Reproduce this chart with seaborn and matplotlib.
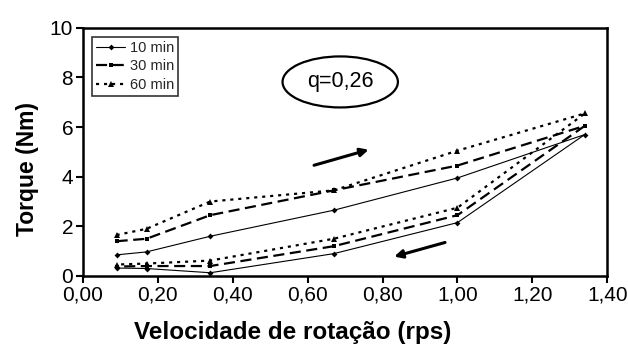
import pandas as pd
import matplotlib.pyplot as plt
import seaborn as sns

# Data: loop goes up in speed, then back down
speed_up = [0.09, 0.17, 0.34, 0.67, 1.00, 1.34]
speed_down = [1.00, 0.67, 0.34, 0.17, 0.09]

torque_10_up = [0.85, 0.97, 1.60, 2.65, 3.95, 5.70]
torque_10_down = [2.15, 0.90, 0.13, 0.30, 0.32]
torque_30_up = [1.40, 1.50, 2.45, 3.45, 4.45, 6.05]
torque_30_down = [2.45, 1.20, 0.40, 0.40, 0.38]
torque_60_up = [1.65, 1.90, 3.00, 3.45, 5.05, 6.55]
torque_60_down = [2.75, 1.50, 0.62, 0.50, 0.46]

labels = ["10 min", "30 min", "60 min"]
ups = [torque_10_up, torque_30_up, torque_60_up]
downs = [torque_10_down, torque_30_down, torque_60_down]

# Style
sns.set_theme(style="ticks")
plt.rcParams["font.family"] = ["Liberation Sans", "DejaVu Sans"]

fig = plt.figure(figsize=(6.28, 3.48), dpi=100)
ax = fig.add_axes([0.132, 0.207, 0.835, 0.713])

markers = ["D", "s", "^"]
msizes = [3, 3.5, 4]
lstyles = ["-", (0, (5, 2.5)), (0, (1.4, 2.2))]
lwidths = [0.8, 1.6, 1.6]

for lab, up, down, mk, ms, ls, lw in zip(labels, ups, downs, markers, msizes, lstyles, lwidths):
    df = pd.DataFrame({"speed": speed_up + speed_down, "torque": up + down})
    sns.lineplot(data=df, x="speed", y="torque", sort=False, estimator=None,
                 color="black", marker=mk, markersize=ms, markeredgewidth=0,
                 linestyle=ls, linewidth=lw, label=lab, ax=ax)

ax.set_xlim(0, 1.4)
ax.set_ylim(0, 10)
ax.set_xticks([0, 0.2, 0.4, 0.6, 0.8, 1.0, 1.2, 1.4])
ax.set_xticklabels(["0,00", "0,20", "0,40", "0,60", "0,80", "1,00", "1,20", "1,40"])
ax.set_yticks([0, 2, 4, 6, 8, 10])
ax.tick_params(axis="both", direction="out", length=5, width=1.5, labelsize=15,
               color="black", labelcolor="black", pad=2)
for sp in ax.spines.values():
    sp.set_visible(True)
    sp.set_color("black")
    sp.set_linewidth(1.8)

ax.set_xlabel("Velocidade de rotação (rps)", fontsize=17.5, fontweight="bold", color="black")
ax.xaxis.set_label_coords(0.40, -0.18, transform=ax.transAxes)
ax.xaxis.label.set_va("top")
ax.set_ylabel("Torque (Nm)", fontsize=16.5, fontweight="bold", color="black")
ax.yaxis.set_label_coords(-0.083, 0.43, transform=ax.transAxes)

# q annotation in an ellipse
ax.text(0.687, 7.82, "q=0,26", fontsize=15.5, ha="center", va="center", color="black",
        bbox=dict(boxstyle="ellipse,pad=0.35", fc="white", ec="black", lw=1.6))

# direction arrows
ax.annotate("", xy=(0.77, 5.12), xytext=(0.61, 4.43),
            arrowprops=dict(arrowstyle="-|>", color="black", lw=2.2, mutation_scale=12))
ax.annotate("", xy=(0.824, 0.75), xytext=(0.974, 1.38),
            arrowprops=dict(arrowstyle="-|>", color="black", lw=2.2, mutation_scale=12))

leg = ax.legend(loc="upper left", fontsize=10.5, frameon=True, fancybox=False,
                handlelength=2.0, handletextpad=0.3, borderpad=0.3, labelspacing=0.3,
                borderaxespad=0.6)
leg.get_frame().set_edgecolor("black")
leg.get_frame().set_linewidth(1.2)

fig.savefig("out.png", dpi=100, facecolor="white")
